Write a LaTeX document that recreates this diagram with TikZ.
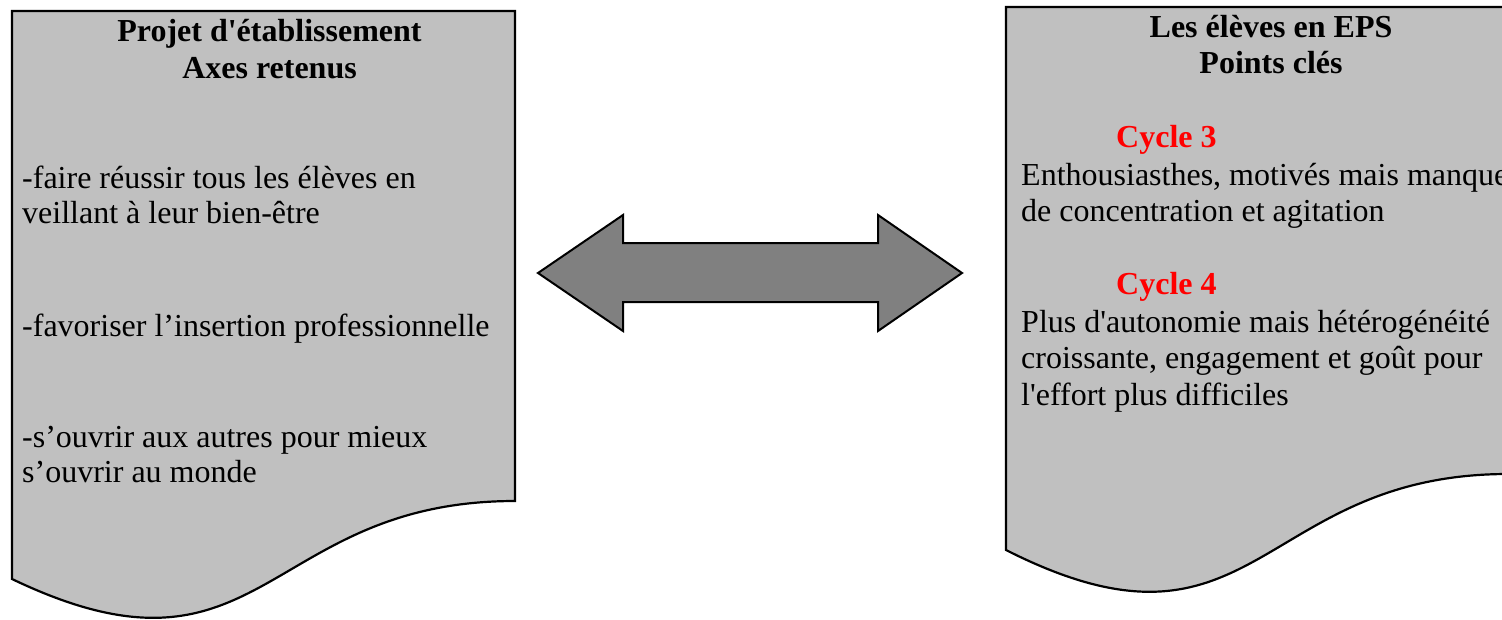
\documentclass[tikz,border=0pt]{standalone}
\usepackage{fontspec}
\setmainfont{Liberation Serif}
\definecolor{docgray}{HTML}{C0C0C0}
\definecolor{arrowgray}{HTML}{808080}
\definecolor{cyclered}{HTML}{FF0000}
\newcommand{\sq}{\textquotesingle}
\begin{document}
\begin{tikzpicture}[x=1pt,y=-1pt,
  docshape/.style={draw=black,fill=docgray,line width=2.2pt,line join=miter},
  dblarrow/.style={draw=black,fill=arrowgray,line width=2pt,line join=miter},
  txt/.style={anchor=base west,inner sep=0pt,font=\fontsize{32}{35}\selectfont},
  ttl/.style={anchor=base,inner sep=0pt,font=\fontsize{32}{35}\selectfont\bfseries},
  cyc/.style={anchor=base west,inner sep=0pt,font=\fontsize{32}{35}\selectfont\bfseries,text=cyclered}]
\useasboundingbox (0,0) rectangle (1502,619);
% left document
\draw[docshape] (12,11) -- (515,11) -- (515,501)
  .. controls (263.5,501) and (263.5,699.5) .. (12,579) -- cycle;
% right document
\draw[docshape] (1006,7) -- (1508,7) -- (1508,474)
  .. controls (1257,474) and (1257,677) .. (1006,550) -- cycle;
% double arrow
\draw[dblarrow] (538,273) -- (623,215) -- (623,243) -- (878,243) -- (878,215)
  -- (962,273) -- (878,331) -- (878,302) -- (623,302) -- (623,331) -- cycle;
% left texts
\node[ttl] (t1) at (269.5,41) {Projet d\sq établissement};
\node[ttl] (t2) at (269.5,78) {Axes retenus};
\node[txt] (l1) at (22,188) {-faire réussir tous les élèves en};
\node[txt] (l2) at (22,223) {veillant à leur bien-être};
\node[txt] (l3) at (22,336) {-favoriser l’insertion professionnelle};
\node[txt] (l4) at (22,447) {-s’ouvrir aux autres pour mieux};
\node[txt] (l5) at (22,482) {s’ouvrir au monde};
% right texts
\node[ttl] (r1) at (1271,37) {Les élèves en EPS};
\node[ttl] (r2) at (1271,73) {Points clés};
\node[cyc] (c3) at (1116,147) {Cycle 3};
\node[txt] (r3) at (1021,185) {Enthousiasthes, motivés mais manque};
\node[txt] (r4) at (1021,221) {de concentration et agitation};
\node[cyc] (c4) at (1116,294) {Cycle 4};
\node[txt] (r5) at (1021,332) {Plus d\sq autonomie mais hétérogénéité};
\node[txt] (r6) at (1021,368) {croissante, engagement et goût pour};
\node[txt] (r7) at (1021,405) {l\sq effort plus difficiles};
\end{tikzpicture}
\end{document}
